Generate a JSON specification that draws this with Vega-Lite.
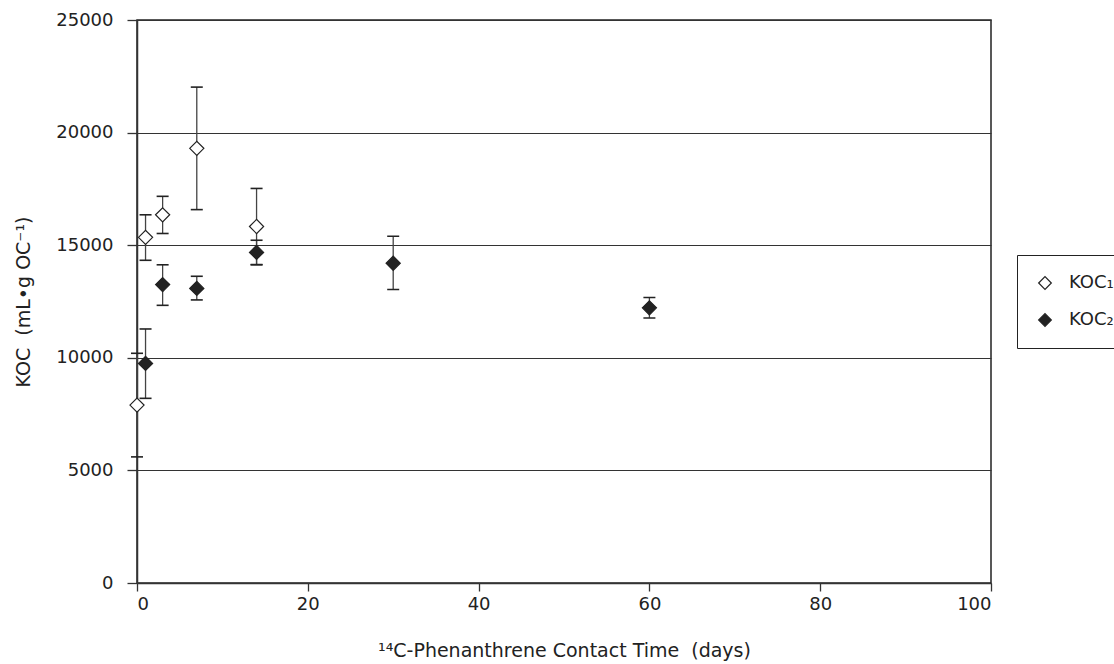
{
  "$schema": "https://vega.github.io/schema/vega-lite/v6.json",
  "width": 854,
  "height": 563,
  "autosize": {"type": "none"},
  "padding": {"left": 137, "top": 20, "right": 123, "bottom": 81},
  "background": "white",
  "config": {
    "font": "DejaVu Sans",
    "view": {"stroke": "#222", "strokeWidth": 1.5},
    "axis": {
      "domainColor": "#333",
      "domainWidth": 1.5,
      "tickColor": "#333",
      "tickWidth": 1.3,
      "labelFont": "DejaVu Sans",
      "titleFont": "DejaVu Sans",
      "labelFontSize": 18,
      "titleFontSize": 19,
      "titleFontWeight": "normal",
      "labelColor": "#222",
      "titleColor": "#222"
    }
  },
  "data": {
    "values": [
      {"series": "KOC₁", "t": 0, "y": 7900, "lo": 5600, "hi": 10200},
      {"series": "KOC₁", "t": 1, "y": 15350, "lo": 14330, "hi": 16350},
      {"series": "KOC₁", "t": 3, "y": 16350, "lo": 15520, "hi": 17170},
      {"series": "KOC₁", "t": 7, "y": 19300, "lo": 16580, "hi": 22020},
      {"series": "KOC₁", "t": 14, "y": 15830, "lo": 14140, "hi": 17520},
      {"series": "KOC₂", "t": 1, "y": 9750, "lo": 8200, "hi": 11280},
      {"series": "KOC₂", "t": 3, "y": 13250, "lo": 12330, "hi": 14130},
      {"series": "KOC₂", "t": 7, "y": 13080, "lo": 12570, "hi": 13620},
      {"series": "KOC₂", "t": 14, "y": 14680, "lo": 14130, "hi": 15220},
      {"series": "KOC₂", "t": 30, "y": 14200, "lo": 13030, "hi": 15400},
      {"series": "KOC₂", "t": 60, "y": 12220, "lo": 11770, "hi": 12680}
    ]
  },
  "encoding": {
    "x": {
      "field": "t",
      "type": "quantitative",
      "scale": {"domain": [0, 100], "nice": false},
      "axis": {
        "values": [0, 20, 40, 60, 80, 100],
        "format": "d",
        "grid": false,
        "tickSize": 8,
        "labelPadding": 4,
        "titlePadding": 28,
        "title": "¹⁴C-Phenanthrene Contact Time\u00a0\u00a0(days)"
      }
    }
  },
  "layer": [
    {
      "mark": {"type": "rule", "color": "#444", "strokeWidth": 1.3},
      "encoding": {
        "y": {
          "field": "lo",
          "type": "quantitative",
          "scale": {"domain": [0, 25000], "nice": false},
          "axis": {
            "values": [0, 5000, 10000, 15000, 20000, 25000],
            "format": "d",
            "grid": true,
            "gridColor": "#333",
            "gridWidth": 1.2,
            "gridOpacity": 1,
            "tickSize": 10,
            "labelPadding": 14,
            "titlePadding": 22,
            "title": "KOC\u00a0\u00a0(mL•g OC⁻¹)"
          }
        },
        "y2": {"field": "hi"}
      }
    },
    {
      "mark": {"type": "tick", "orient": "horizontal", "size": 12, "thickness": 1.6, "color": "#222", "opacity": 1},
      "encoding": {"y": {"field": "lo", "type": "quantitative"}}
    },
    {
      "mark": {"type": "tick", "orient": "horizontal", "size": 12, "thickness": 1.6, "color": "#222", "opacity": 1},
      "encoding": {"y": {"field": "hi", "type": "quantitative"}}
    },
    {
      "mark": {"type": "point", "shape": "diamond", "filled": true, "size": 200, "stroke": "#222", "strokeWidth": 1.2, "opacity": 1},
      "encoding": {
        "y": {"field": "y", "type": "quantitative"},
        "fill": {
          "field": "series",
          "type": "nominal",
          "scale": {"domain": ["KOC₁", "KOC₂"], "range": ["white", "#222"]},
          "legend": {
            "title": null,
            "orient": "none",
            "legendX": 880,
            "legendY": 235,
            "strokeColor": "#222",
            "padding": 19,
            "rowPadding": 19,
            "symbolType": "diamond",
            "symbolSize": 160,
            "symbolStrokeColor": "#222",
            "symbolStrokeWidth": 1.2,
            "labelFontSize": 18,
            "labelFont": "DejaVu Sans",
            "labelColor": "#222",
            "labelOffset": 15
          }
        }
      }
    }
  ]
}
